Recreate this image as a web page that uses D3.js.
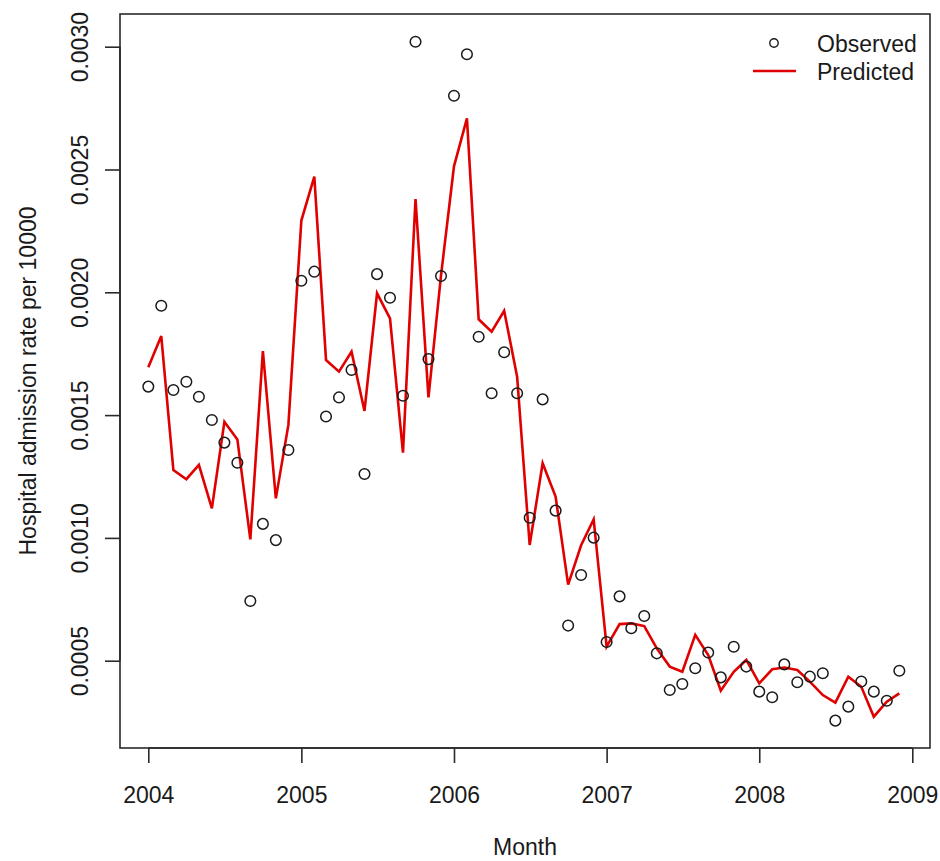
<!doctype html>
<html>
<head>
<meta charset="utf-8">
<script src="https://cdn.jsdelivr.net/npm/d3@7"></script>
<style>
    body { margin: 0; background: #fff; }
    text { font-family: "Liberation Sans", Arial, sans-serif; fill: #1a1a1a; }
</style>
</head>
<body>
<svg width="940" height="861"></svg>
<script>

    // monthly series, Jan 2004 .. Dec 2008
    var months = d3.timeMonths(new Date(2004, 0, 1), new Date(2009, 0, 1));

    var observed = [
        0.001616, 0.001945, 0.001602, 0.001636, 0.001575, 0.001480, 0.001388, 0.001306, 0.000743, 0.001057, 0.000991, 0.001358,
        0.002047, 0.002084, 0.001494, 0.001572, 0.001684, 0.001260, 0.002074, 0.001978, 0.001579, 0.003020, 0.001728, 0.002066,
        0.002800, 0.002969, 0.001819, 0.001589, 0.001756, 0.001589, 0.001082, 0.001564, 0.001111, 0.000643, 0.000849, 0.001001,
        0.000576, 0.000762, 0.000632, 0.000682, 0.000530, 0.000381, 0.000405, 0.000469, 0.000533, 0.000432, 0.000557, 0.000476,
        0.000374, 0.000351, 0.000485, 0.000412, 0.000435, 0.000449, 0.000256, 0.000313, 0.000415, 0.000374, 0.000337, 0.000459
    ];

    var predicted = [
        0.001695, 0.001822, 0.001276, 0.001239, 0.001297, 0.001120, 0.001473, 0.001401, 0.000994, 0.001761, 0.001161, 0.001460,
        0.002292, 0.002471, 0.001724, 0.001677, 0.001758, 0.001517, 0.001996, 0.001894, 0.001347, 0.002380, 0.001572, 0.002069,
        0.002513, 0.002708, 0.001890, 0.001840, 0.001925, 0.001656, 0.000971, 0.001304, 0.001168, 0.000810, 0.000970, 0.001075,
        0.000557, 0.000649, 0.000652, 0.000641, 0.000550, 0.000476, 0.000455, 0.000605, 0.000523, 0.000378, 0.000455, 0.000503,
        0.000408, 0.000465, 0.000472, 0.000462, 0.000415, 0.000360, 0.000329, 0.000435, 0.000394, 0.000272, 0.000333, 0.000367
    ];

    var yearTicks = [2004, 2005, 2006, 2007, 2008, 2009];
    var rateTicks = [0.0005, 0.0010, 0.0015, 0.0020, 0.0025, 0.0030];

    var svg = d3.select("svg"),
        box = {left: 120, right: 930, top: 14, bottom: 748};

    var x = d3.scaleTime()
        .domain([new Date(2004, 0, 1), new Date(2009, 0, 1)])
        .range([148.3, 912.3]);

    var y = d3.scaleLinear()
        .domain([0.0005, 0.0030])
        .range([660.7, 46.7]);

    // frame
    svg.append("rect")
       .attr("x", box.left)
       .attr("y", box.top)
       .attr("width", box.right - box.left)
       .attr("height", box.bottom - box.top)
       .attr("fill", "none")
       .attr("stroke", "#2a2a2a")
       .attr("stroke-width", 1.6);

    // x axis
    var gx = svg.append("g")
        .attr("transform", "translate(0," + box.bottom + ")")
        .call(d3.axisBottom(x)
            .tickValues(yearTicks.map(function(yr) { return new Date(yr, 0, 1); }))
            .tickFormat(d3.timeFormat("%Y"))
            .tickSize(15)
            .tickPadding(23.5));
    gx.select(".domain")
      .attr("d", "M" + x(new Date(2004, 0, 1)) + ",0H" + x(new Date(2009, 0, 1)))
      .attr("stroke", "#2a2a2a").attr("stroke-width", 1.6);
    gx.selectAll(".tick line").attr("stroke", "#2a2a2a").attr("stroke-width", 1.6);
    gx.selectAll("text").attr("font-size", "23px").attr("font-family", null);

    // y axis
    var gy = svg.append("g")
        .attr("transform", "translate(" + box.left + ",0)")
        .call(d3.axisLeft(y)
            .tickValues(rateTicks)
            .tickFormat(d3.format(".4f"))
            .tickSize(15));
    gy.select(".domain")
      .attr("d", "M0," + y(0.0005) + "V" + y(0.0030))
      .attr("stroke", "#2a2a2a").attr("stroke-width", 1.6);
    gy.selectAll(".tick line").attr("stroke", "#2a2a2a").attr("stroke-width", 1.6);
    gy.selectAll("text")
      .attr("font-size", "23px")
      .attr("font-family", null)
      .attr("text-anchor", "middle")
      .attr("x", 0)
      .attr("dy", 0)
      .attr("transform", "translate(-32,0) rotate(-90)");

    // axis titles
    svg.append("text")
       .attr("x", (box.left + box.right) / 2)
       .attr("y", 855)
       .attr("text-anchor", "middle")
       .attr("font-size", "23px")
       .text("Month");

    svg.append("text")
       .attr("transform", "translate(36," + ((box.top + box.bottom) / 2) + ") rotate(-90)")
       .attr("text-anchor", "middle")
       .attr("font-size", "23px")
       .text("Hospital admission rate per 10000");

    // predicted line
    var line = d3.line()
        .x(function(d, i) { return x(months[i]); })
        .y(function(d) { return y(d); });

    svg.append("path")
       .datum(predicted)
       .attr("d", line)
       .attr("fill", "none")
       .attr("stroke", "#e00000")
       .attr("stroke-width", 2.6)
       .attr("stroke-linejoin", "miter");

    // observed points
    svg.selectAll(".obs")
       .data(observed)
       .enter().append("circle")
       .attr("class", "obs")
       .attr("cx", function(d, i) { return x(months[i]); })
       .attr("cy", function(d) { return y(d); })
       .attr("r", 5.3)
       .attr("fill", "none")
       .attr("stroke", "#1a1a1a")
       .attr("stroke-width", 1.5);

    // legend
    var legend = svg.append("g");
    legend.append("circle")
          .attr("cx", 774).attr("cy", 43).attr("r", 4.2)
          .attr("fill", "none").attr("stroke", "#1a1a1a").attr("stroke-width", 1.4);
    legend.append("line")
          .attr("x1", 753).attr("x2", 796).attr("y1", 71).attr("y2", 71)
          .attr("stroke", "#e00000").attr("stroke-width", 2.6);
    legend.append("text")
          .attr("x", 817).attr("y", 52)
          .attr("font-size", "23px")
          .text("Observed");
    legend.append("text")
          .attr("x", 817).attr("y", 80)
          .attr("font-size", "23px")
          .text("Predicted");

</script>
</body>
</html>
